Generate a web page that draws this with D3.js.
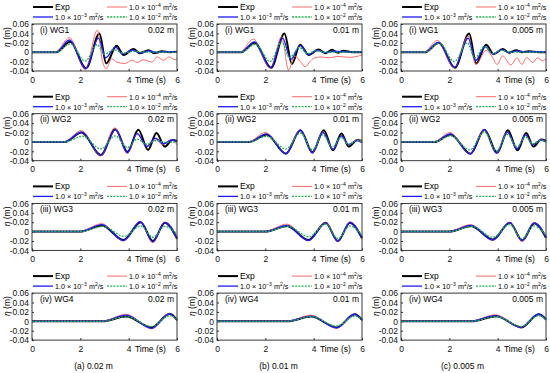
<!DOCTYPE html>
<html>
<head>
<meta charset="utf-8">
<script src="https://cdn.jsdelivr.net/npm/d3@7"></script>
<style>
  body { margin: 0; background: #fff; }
  text { font-family: "Liberation Sans", Arial, sans-serif; }
</style>
</head>
<body>
<svg id="chart" width="550" height="373"></svg>
<script>
// [time (s), eta (m)]
// WG1
const wg1A_exp = [[0,0],[1.0,0],[1.58,0.022],[2.24,-0.034],[2.79,0.040],[3.07,-0.024],[3.5,0.0135],[3.79,-0.006],[4.2,0.007],[4.45,-0.002],[4.83,0.004],[5.05,-0.002],[5.38,0.002],[5.7,0],[6,0.001]];
const wg1A_nu4 = [[0,0],[0.95,0],[1.55,0.031],[2.2,-0.037],[2.71,0.047],[2.92,-0.02],[3.07,-0.035],[3.3,-0.014],[3.5,-0.021],[3.85,-0.024],[4.14,-0.017],[4.35,-0.022],[4.6,-0.016],[4.97,-0.021],[5.17,-0.01],[5.45,-0.017],[5.66,-0.01],[5.93,-0.016],[6,-0.014]];
const wg1A_nu3 = [[0,0],[1.0,0],[1.55,0.026],[2.22,-0.035],[2.75,0.03],[3.05,-0.012],[3.45,0.011],[3.75,-0.004],[4.15,0.005],[4.5,-0.002],[4.85,0.003],[5.2,-0.001],[5.5,0.001],[6,0]];
const wg1A_nu2 = [[0,0],[1.0,0],[1.6,0.018],[2.2,-0.019],[2.7,0.016],[3.0,-0.004],[3.4,0.005],[3.8,-0.002],[4.2,0.002],[4.6,0],[6,0]];

const wg1B_exp = [[0,0],[1.0,0],[1.55,0.02],[2.24,-0.033],[2.79,0.04],[3.1,-0.025],[3.44,0.016],[3.79,-0.006],[4.2,0.006],[4.48,-0.002],[4.76,0.005],[5.0,-0.001],[5.24,0.003],[5.6,0],[6,0]];
const wg1B_nu4 = [[0,0],[0.95,0],[1.5,0.028],[2.2,-0.034],[2.68,0.033],[2.96,-0.038],[3.22,-0.008],[3.45,-0.02],[3.65,-0.031],[3.85,-0.02],[4.0,-0.013],[4.3,-0.01],[4.6,-0.012],[5.0,-0.009],[5.5,-0.011],[6,-0.006]];
const wg1B_nu3 = [[0,0],[1.0,0],[1.55,0.022],[2.22,-0.033],[2.72,0.03],[3.05,-0.015],[3.45,0.014],[3.78,-0.005],[4.15,0.004],[4.5,-0.001],[4.85,0.002],[5.5,0],[6,0]];
const wg1B_nu2 = [[0,0],[1.0,0],[1.6,0.017],[2.2,-0.02],[2.68,0.022],[3.0,-0.012],[3.4,0.01],[3.75,-0.003],[4.1,0.003],[4.5,0],[6,0]];

const wg1C_exp = [[0,0],[1.0,0],[1.56,0.02],[2.23,-0.033],[2.82,0.04],[3.11,-0.024],[3.52,0.016],[3.84,-0.004],[4.21,0.007],[4.46,-0.001],[4.77,0.004],[5.0,0],[5.3,0.002],[5.7,0],[6,0]];
const wg1C_nu4 = [[0,0],[0.95,0],[1.5,0.025],[2.2,-0.033],[2.78,0.034],[3.1,-0.026],[3.52,0.004],[3.75,-0.008],[3.98,-0.026],[4.2,-0.008],[4.55,-0.027],[4.8,-0.012],[5.0,-0.026],[5.2,-0.011],[5.45,-0.022],[5.65,-0.012],[5.85,-0.018],[6,-0.014]];
const wg1C_nu3 = [[0,0],[1.0,0],[1.55,0.021],[2.22,-0.032],[2.78,0.03],[3.08,-0.018],[3.48,0.012],[3.8,-0.004],[4.18,0.005],[4.5,-0.001],[4.8,0.003],[5.2,0],[5.45,0.001],[6,0]];
const wg1C_nu2 = [[0,0],[1.0,0],[1.6,0.019],[2.2,-0.02],[2.75,0.02],[3.05,-0.012],[3.45,0.012],[3.8,-0.003],[4.15,0.004],[4.5,0],[6,0]];

// WG2
const wg2A_exp = [[0,0],[1.35,0],[2.05,0.02],[2.85,-0.028],[3.45,0.027],[3.95,-0.021],[4.4,0.026],[4.8,-0.017],[5.15,0.019],[5.5,-0.01],[5.8,0.004],[6,0.002]];
const wg2A_nu4 = [[0,0],[1.3,0],[2.05,0.024],[2.85,-0.03],[3.42,0.03],[3.95,-0.025],[4.35,0.016],[4.75,-0.008],[5.1,0.006],[5.4,-0.006],[5.75,0.005],[6,-0.006]];
const wg2A_nu3 = [[0,0],[1.35,0],[2.05,0.021],[2.85,-0.028],[3.45,0.026],[3.95,-0.023],[4.35,0.018],[4.75,-0.01],[5.1,0.008],[5.45,-0.004],[5.8,0.004],[6,0]];
const wg2A_nu2 = [[0,0],[1.35,0],[2.1,0.012],[2.85,-0.015],[3.45,0.013],[3.95,-0.012],[4.35,0.006],[4.75,-0.005],[5.15,0.003],[5.5,-0.001],[6,0]];

const wg2B_exp = [[0,0],[1.35,0],[2.05,0.016],[2.85,-0.025],[3.45,0.025],[3.95,-0.022],[4.42,0.025],[4.8,-0.018],[5.15,0.018],[5.45,-0.01],[5.8,0.004],[6,0.002]];
const wg2B_nu4 = [[0,0],[1.3,0],[2.0,0.02],[2.85,-0.025],[3.42,0.025],[3.95,-0.023],[4.38,0.021],[4.8,-0.015],[5.15,0.013],[5.45,-0.006],[5.75,0.004],[6,0.002]];
const wg2B_nu3 = [[0,0],[1.35,0],[2.05,0.017],[2.85,-0.025],[3.45,0.025],[3.95,-0.024],[4.38,0.02],[4.8,-0.016],[5.15,0.013],[5.45,-0.006],[5.8,0.003],[6,-0.002]];
const wg2B_nu2 = [[0,0],[1.35,0],[2.05,0.012],[2.85,-0.015],[3.45,0.019],[3.95,-0.017],[4.38,0.015],[4.78,-0.011],[5.12,0.01],[5.45,-0.005],[5.8,0.003],[6,0]];

const wg2C_exp = [[0,0],[1.4,0],[2.05,0.016],[2.88,-0.025],[3.45,0.026],[3.98,-0.023],[4.42,0.025],[4.82,-0.018],[5.18,0.019],[5.48,-0.01],[5.8,0.005],[6,0.002]];
const wg2C_nu4 = [[0,0],[1.35,0],[2.02,0.02],[2.85,-0.025],[3.42,0.026],[3.95,-0.024],[4.38,0.021],[4.8,-0.014],[5.15,0.015],[5.45,-0.005],[5.78,0.005],[6,0.001]];
const wg2C_nu3 = [[0,0],[1.4,0],[2.05,0.017],[2.85,-0.026],[3.45,0.026],[3.95,-0.024],[4.4,0.021],[4.8,-0.015],[5.15,0.015],[5.45,-0.006],[5.8,0.004],[6,0]];
const wg2C_nu2 = [[0,0],[1.4,0],[2.05,0.013],[2.85,-0.017],[3.45,0.021],[3.95,-0.019],[4.4,0.016],[4.8,-0.011],[5.15,0.011],[5.45,-0.004],[5.8,0.003],[6,0]];

// WG3
const wg3A_exp = [[0,0],[2.0,0],[2.9,0.013],[3.78,-0.018],[4.5,0.02],[5.0,-0.02],[5.5,0.019],[6,-0.015]];
const wg3A_nu4 = [[0,0],[1.95,0],[2.9,0.017],[3.78,-0.02],[4.48,0.022],[5.0,-0.024],[5.48,0.02],[6,-0.017]];
const wg3A_nu3 = [[0,0],[2.0,0],[2.9,0.015],[3.78,-0.019],[4.48,0.021],[5.0,-0.022],[5.48,0.019],[6,-0.015]];
const wg3A_nu2 = [[0,0],[2.0,0],[2.95,0.011],[3.8,-0.01],[4.5,0.012],[5.0,-0.012],[5.5,0.011],[6,-0.005]];

const wg3B_exp = [[0,0],[2.0,0],[2.9,0.012],[3.78,-0.018],[4.5,0.019],[5.0,-0.02],[5.5,0.019],[6,-0.014]];
const wg3B_nu4 = [[0,0],[1.95,0],[2.9,0.016],[3.78,-0.019],[4.5,0.019],[5.0,-0.02],[5.5,0.021],[6,-0.012]];
const wg3B_nu3 = [[0,0],[2.0,0],[2.9,0.013],[3.78,-0.019],[4.5,0.018],[5.0,-0.02],[5.5,0.019],[6,-0.013]];
const wg3B_nu2 = [[0,0],[2.0,0],[2.95,0.011],[3.8,-0.011],[4.5,0.016],[5.0,-0.015],[5.5,0.012],[6,-0.008]];

const wg3C_exp = [[0,0],[2.0,0],[2.9,0.012],[3.8,-0.017],[4.5,0.019],[5.02,-0.019],[5.52,0.018],[6,-0.013]];
const wg3C_nu4 = [[0,0],[1.95,0],[2.88,0.015],[3.78,-0.018],[4.5,0.019],[5.0,-0.021],[5.5,0.019],[6,-0.012]];
const wg3C_nu3 = [[0,0],[2.0,0],[2.9,0.013],[3.8,-0.018],[4.5,0.019],[5.0,-0.019],[5.5,0.018],[6,-0.012]];
const wg3C_nu2 = [[0,0],[2.0,0],[2.95,0.011],[3.8,-0.012],[4.5,0.015],[5.0,-0.015],[5.5,0.012],[6,-0.008]];

// WG4
const wg4A_exp = [[0,0],[2.9,0],[3.9,0.01],[4.95,-0.013],[5.7,0.016],[6,0.003]];
const wg4A_nu4 = [[0,0],[2.85,0],[3.9,0.015],[4.95,-0.016],[5.68,0.016],[6,0.001]];
const wg4A_nu3 = [[0,0],[2.9,0],[3.9,0.013],[4.95,-0.015],[5.68,0.016],[6,0.002]];
const wg4A_nu2 = [[0,0],[2.9,0],[3.9,0.01],[4.95,-0.011],[5.7,0.012],[6,0.004]];

const wg4B_exp = [[0,0],[2.9,0],[3.9,0.01],[4.95,-0.013],[5.7,0.015],[6,0.003]];
const wg4B_nu4 = [[0,0],[2.85,0],[3.9,0.013],[4.95,-0.015],[5.68,0.015],[6,0.001]];
const wg4B_nu3 = [[0,0],[2.9,0],[3.9,0.011],[4.95,-0.014],[5.68,0.015],[6,0.002]];
const wg4B_nu2 = [[0,0],[2.9,0],[3.9,0.01],[4.95,-0.01],[5.7,0.011],[6,0.004]];

const wg4C_exp = [[0,0],[2.9,0],[3.95,0.011],[4.98,-0.013],[5.7,0.015],[6,0.004]];
const wg4C_nu4 = [[0,0],[2.85,0],[3.9,0.014],[4.95,-0.013],[5.68,0.015],[6,0.002]];
const wg4C_nu3 = [[0,0],[2.9,0],[3.9,0.012],[4.95,-0.013],[5.68,0.015],[6,0.003]];
const wg4C_nu2 = [[0,0],[2.9,0],[3.95,0.01],[4.98,-0.011],[5.7,0.012],[6,0.004]];

const GAUGES = ["(i) WG1", "(ii) WG2", "(iii) WG3", "(iv) WG4"];
const CASES = ["0.02 m", "0.01 m", "0.005 m"];
const CAPTIONS = ["(a) 0.02 m", "(b) 0.01 m", "(c) 0.005 m"];
const X_TICKS = [0, 2, 4, 6];
const Y_TICKS = [-0.04, -0.02, 0, 0.02, 0.04, 0.06];

// rows = gauges, cols = cases; series order: Exp, 1e-4, 1e-3, 1e-2
const PANELS = [
  [[wg1A_exp, wg1A_nu4, wg1A_nu3, wg1A_nu2], [wg1B_exp, wg1B_nu4, wg1B_nu3, wg1B_nu2], [wg1C_exp, wg1C_nu4, wg1C_nu3, wg1C_nu2]],
  [[wg2A_exp, wg2A_nu4, wg2A_nu3, wg2A_nu2], [wg2B_exp, wg2B_nu4, wg2B_nu3, wg2B_nu2], [wg2C_exp, wg2C_nu4, wg2C_nu3, wg2C_nu2]],
  [[wg3A_exp, wg3A_nu4, wg3A_nu3, wg3A_nu2], [wg3B_exp, wg3B_nu4, wg3B_nu3, wg3B_nu2], [wg3C_exp, wg3C_nu4, wg3C_nu3, wg3C_nu2]],
  [[wg4A_exp, wg4A_nu4, wg4A_nu3, wg4A_nu2], [wg4B_exp, wg4B_nu4, wg4B_nu3, wg4B_nu2], [wg4C_exp, wg4C_nu4, wg4C_nu3, wg4C_nu2]]
];

// Styles
const STYLES = [
  { color: "#000000", width: 2, dash: null },
  { color: "#ff5a5a", width: 0.9, dash: null },
  { color: "#1a1aff", width: 1.3, dash: null },
  { color: "#1fb54a", width: 1.3, dash: "2,1.2" }
];

const COL_LEFT = [32, 217, 401];
const ROW_TOP = [24, 113.7, 203.4, 293.1];
const PLOT_W = 145;
const PLOT_H = 47;
const FONT = 8.5;

const svg = d3.select("#chart");
svg.append("rect").attr("width", 550).attr("height", 373).attr("fill", "#fff");

const x = d3.scaleLinear().domain([0, 6]).range([0, PLOT_W]);
const y = d3.scaleLinear().domain([-0.04, 0.06]).range([PLOT_H, 0]);
const fmtY = d => (d === 0 ? "0" : d3.format(".2f")(d).replace("\u2212", "-"));
const line = d3.line().x(d => x(d[0])).y(d => y(d[1])).curve(d3.curveMonotoneX);

// legend label with super-scripts: 1.0 × 10^exp m²/s
function nuLabel(sel, exp) {
  sel.attr("font-size", 7.2);
  sel.append("tspan").text("1.0 \u00d7 10");
  sel.append("tspan").attr("dy", -3).attr("font-size", 5).text("\u2212" + exp);
  sel.append("tspan").attr("dy", 3).text(" m");
  sel.append("tspan").attr("dy", -3).attr("font-size", 5).text("2");
  sel.append("tspan").attr("dy", 3).text("/s");
}

PANELS.forEach((row, r) => {
  row.forEach((series, c) => {
    const g = svg.append("g")
      .attr("transform", `translate(${COL_LEFT[c]}, ${ROW_TOP[r]})`);

    // Axes
    const xAxis = g.append("g")
      .attr("transform", `translate(0, ${PLOT_H})`)
      .call(d3.axisBottom(x).tickValues(X_TICKS).tickSizeInner(-2).tickSizeOuter(0).tickPadding(5.5).tickFormat(d3.format("d")));
    const yAxis = g.append("g")
      .call(d3.axisLeft(y).tickValues(Y_TICKS).tickSizeInner(-2).tickSizeOuter(0).tickPadding(3).tickFormat(fmtY));
    [xAxis, yAxis].forEach(a => {
      a.attr("font-family", null).attr("font-size", FONT);
      a.select(".domain").remove();
      a.selectAll("line").attr("stroke", "#333");
      a.selectAll("text").attr("fill", "#111");
    });

    // Lines
    series.forEach((pts, i) => {
      const s = STYLES[i];
      g.append("path")
        .datum(pts)
        .attr("fill", "none")
        .attr("stroke", s.color)
        .attr("stroke-width", s.width)
        .attr("stroke-dasharray", s.dash)
        .attr("d", line);
    });

    // Frame
    g.append("rect")
      .attr("width", PLOT_W).attr("height", PLOT_H)
      .attr("fill", "none").attr("stroke", "#222").attr("stroke-width", 0.9);

    // Labels in plot
    g.append("text").attr("x", 8).attr("y", 8.5).attr("font-size", FONT).text(GAUGES[r]);
    g.append("text").attr("x", PLOT_W - 3).attr("y", 8.5).attr("font-size", FONT)
      .attr("text-anchor", "end").text(CASES[c]);
    g.append("text").attr("x", x(4.9)).attr("y", PLOT_H + 11.5).attr("font-size", FONT)
      .attr("text-anchor", "middle").text("Time (s)");

    // Y title
    const yt = g.append("text")
      .attr("transform", `translate(-22, 13) rotate(-90)`)
      .attr("text-anchor", "middle").attr("font-size", FONT);
    yt.append("tspan").attr("font-style", "italic").text("\u03b7");
    yt.append("tspan").text(" (m)");

    // Legend
    const leg = g.append("g").attr("font-size", 8.5);
    const rows = [-17, -7];
    const cols = [[1, 21, 23], [75, 95, 97]];
    const labels = ["Exp", "4", "3", "2"];
    STYLES.forEach((s, i) => {
      const ly = rows[i === 0 || i === 1 ? 0 : 1];
      const lc = cols[i === 0 || i === 2 ? 0 : 1];
      leg.append("line")
        .attr("x1", lc[0]).attr("x2", lc[1]).attr("y1", ly).attr("y2", ly)
        .attr("stroke", s.color).attr("stroke-width", s.width)
        .attr("stroke-dasharray", s.dash);
      const t = leg.append("text").attr("x", lc[2]).attr("y", ly + 3);
      if (i === 0) t.text(labels[0]);
      else nuLabel(t, labels[i]);
    });

    // Caption
    if (r === PANELS.length - 1) {
      g.append("text").attr("x", 61.5).attr("y", PLOT_H + 29)
        .attr("text-anchor", "middle").attr("font-size", FONT).text(CAPTIONS[c]);
    }
  });
});
</script>
</body>
</html>
